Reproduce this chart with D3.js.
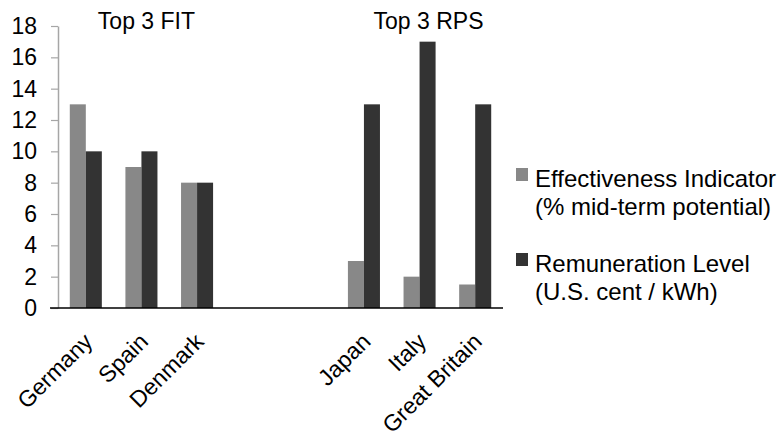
<!DOCTYPE html>
<html>
<head>
<meta charset="utf-8">
<script src="https://cdn.jsdelivr.net/npm/d3@7"></script>
<style>
  body { margin: 0; background: #fff; }
  svg { display: block; font-family: "Liberation Sans", Arial, sans-serif; }
</style>
</head>
<body>
<svg id="chart" width="783" height="442"></svg>
<script>
// Chart data
const countries = ["Germany", "Spain", "Denmark", "", "", "Japan", "Italy", "Great Britain"];
const effectiveness = [13, 9, 8, null, null, 3, 2, 1.5];
const remuneration = [10, 10, 8, null, null, 13, 17, 13];
const seriesNames = ["Effectiveness Indicator|(% mid-term potential)", "Remuneration Level|(U.S. cent / kWh)"];
const seriesColors = ["#888888", "#333333"];
const groupTitles = ["Top 3 FIT", "Top 3 RPS"];
const yTicks = [0, 2, 4, 6, 8, 10, 12, 14, 16, 18];

const svg = d3.select("#chart");
const plotLeft = 58, plotRight = 503, plotTop = 26, plotBottom = 308;

// Scales
let xScale = d3.scaleBand()
  .domain(d3.range(countries.length))
  .range([plotLeft, plotRight])
  .paddingInner(0.424)
  .paddingOuter(0.212);

let xSub = d3.scaleBand()
  .domain([0, 1])
  .range([0, xScale.bandwidth()]);

let yScale = d3.scaleLinear()
  .domain([0, 18])
  .range([plotBottom, plotTop]);

// Y axis
let yAxis = d3.axisLeft(yScale)
  .tickValues(yTicks)
  .tickSize(7)
  .tickSizeOuter(0)
  .tickPadding(14);

let gy = svg.append("g")
  .attr("transform", `translate(${plotLeft}, 0)`)
  .call(yAxis);
gy.select(".domain").attr("stroke", "#a6a6a6").attr("stroke-width", 1.5);
gy.selectAll(".tick line").attr("stroke", "#a6a6a6").attr("stroke-width", 1.2);
gy.selectAll(".tick text")
  .attr("font-size", 23)
  .attr("font-family", "Liberation Sans, Arial, sans-serif")
  .attr("fill", "#000");

// Bars
let rows = countries.map((c, i) => ({ i: i, values: [effectiveness[i], remuneration[i]] }));
let groups = svg.append("g")
  .selectAll("g")
  .data(rows)
  .enter()
  .append("g")
  .attr("transform", d => `translate(${xScale(d.i)}, 0)`);

groups.selectAll("rect")
  .data(d => d.values.map((v, k) => ({ k: k, v: v })).filter(e => e.v != null))
  .enter()
  .append("rect")
  .attr("x", e => xSub(e.k))
  .attr("width", xSub.bandwidth())
  .attr("y", e => yScale(e.v))
  .attr("height", e => yScale(0) - yScale(e.v))
  .style("fill", e => seriesColors[e.k]);

// X axis
let xAxis = d3.axisBottom(xScale)
  .tickSize(0)
  .tickFormat(i => countries[i]);

let gx = svg.append("g")
  .attr("transform", `translate(0, ${plotBottom})`)
  .call(xAxis);
gx.select(".domain").remove();
gx.append("line")
  .attr("x1", plotLeft - 8)
  .attr("x2", plotRight)
  .attr("stroke", "#000")
  .attr("stroke-width", 1.5);
gx.selectAll(".tick text")
  .attr("font-size", 23)
  .attr("font-family", "Liberation Sans, Arial, sans-serif")
  .attr("fill", "#000")
  .attr("text-anchor", "end")
  .attr("dy", null)
  .attr("y", 0)
  .attr("transform", `translate(8, 35) rotate(-45)`);

// Group titles
svg.selectAll("text.group-title")
  .data(groupTitles)
  .enter()
  .append("text")
  .attr("class", "group-title")
  .attr("x", (d, i) => xScale(i == 0 ? 1 : 6) + xScale.bandwidth() / 2 + (i == 0 ? 5 : 9))
  .attr("y", 29)
  .attr("text-anchor", "middle")
  .attr("font-size", 23)
  .text(d => d);

// Legend
let legend = svg.append("g")
  .attr("transform", "translate(516, 168)")
  .selectAll("g")
  .data(seriesNames)
  .enter()
  .append("g")
  .attr("transform", (d, i) => `translate(0, ${i * 85})`);

legend.append("rect")
  .attr("width", 12)
  .attr("height", 13)
  .style("fill", (d, i) => seriesColors[i]);

legend.append("text")
  .attr("x", 19)
  .attr("y", 19)
  .attr("font-size", 24)
  .selectAll("tspan")
  .data(d => d.split("|"))
  .enter()
  .append("tspan")
  .attr("x", 19)
  .attr("dy", (d, j) => j == 0 ? 0 : 28)
  .text(d => d);
</script>
</body>
</html>
